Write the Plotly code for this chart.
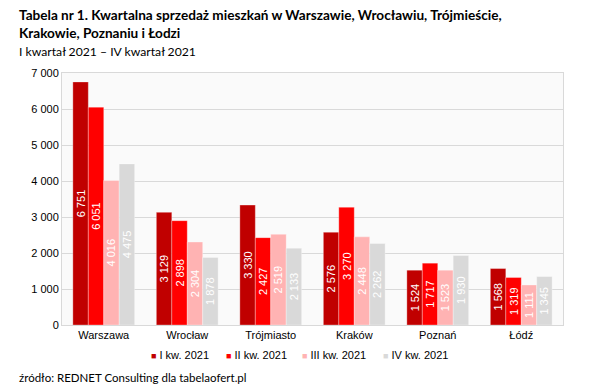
import plotly.graph_objects as go

cities = ["Warszawa", "Wrocław", "Trójmiasto", "Kraków", "Poznań", "Łódź"]
series_names = ["I kw. 2021", "II kw. 2021", "III kw. 2021", "IV kw. 2021"]
q1 = [6751, 3129, 3330, 2576, 1524, 1568]
q2 = [6051, 2898, 2427, 3270, 1717, 1319]
q3 = [4016, 2304, 2519, 2448, 1523, 1111]
q4 = [4475, 1878, 2133, 2262, 1930, 1345]
y_ticks = [0, 1000, 2000, 3000, 4000, 5000, 6000, 7000]
colors = ["#c00000", "#ff0000", "#ffb3b3", "#d9d9d9"]

W, H = 610, 391
L, R, T, B = 62, 47, 73, 66
PW, PH = W - L - R, H - T - B

fig = go.Figure()
for name, vals, col in zip(series_names, [q1, q2, q3, q4], colors):
    fig.add_trace(go.Bar(
        x=cities, y=vals, name=name,
        marker=dict(color=col, line=dict(color="rgba(255,255,255,0.6)", width=0.5)),
        texttemplate="%{y:,.0f}", textposition="inside", insidetextanchor="middle",
        constraintext="none", cliponaxis=False,
        textangle=-90, textfont=dict(color="white", size=11, family="Liberation Sans"),
    ))

fig.update_layout(
    width=W, height=H,
    margin=dict(l=L, r=R, t=T, b=B, autoexpand=False),
    barmode="group", bargap=0.26, bargroupgap=0,
    separators=", ",
    paper_bgcolor="white", plot_bgcolor="#fafafa",
    font=dict(family="Liberation Sans", size=11, color="#000000"),
    showlegend=False,
    xaxis=dict(showline=True, linecolor="#d9d9d9", mirror=True, ticks="",
               tickfont=dict(size=11), showgrid=False, automargin=False),
    yaxis=dict(range=[0, 7000], tickvals=y_ticks, tickformat=",.0f",
               showgrid=True, gridcolor="#d9d9d9", gridwidth=1,
               showline=True, linecolor="#d9d9d9", mirror=True,
               ticks="", tickfont=dict(size=11), zeroline=False, automargin=False),
)

def px_x(px):
    return (px - L) / PW

def px_y(py):
    return (H - B - py) / PH

title_font = dict(family="Lato", size=13.6, color="#000")
sub_font = dict(family="Lato", size=12.2, color="#000")
texts = [
    ("<b>Tabela nr 1. Kwartalna sprzedaż mieszkań w Warszawie, Wrocławiu, Trójmieście,</b>", 15, title_font),
    ("<b>Krakowie, Poznaniu i Łodzi</b>", 33, title_font),
    ("I kwartał 2021 – IV kwartał 2021", 51, sub_font),
    ("źródło: REDNET Consulting dla tabelaofert.pl", 377, dict(family="Lato", size=11.5, color="#000")),
]
for txt, yy, f in texts:
    fig.add_annotation(text=txt, xref="paper", yref="paper", x=px_x(17), y=px_y(yy),
                       xanchor="left", yanchor="middle", showarrow=False, font=f)

# legend row (compact, like the original)
legend_x = [149, 224, 300, 381]
for lx, name, col in zip(legend_x, series_names, colors):
    fig.add_annotation(
        text=f"<span style='color:{col};font-size:9px'>■</span> {name}",
        xref="paper", yref="paper", x=px_x(lx), y=px_y(355),
        xanchor="left", yanchor="middle", showarrow=False,
        font=dict(family="Liberation Sans", size=11, color="#000"))

fig.write_html("out.html", config={"displayModeBar": False},
               post_script="document.body.style.margin='0px';")
